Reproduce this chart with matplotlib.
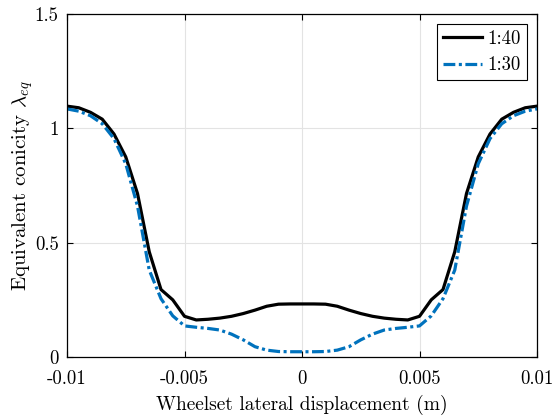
import numpy as np
import matplotlib
matplotlib.use('Agg')
import matplotlib.pyplot as plt

plt.rcParams['font.family'] = 'cmr10'
plt.rcParams['mathtext.fontset'] = 'cm'
plt.rcParams['axes.unicode_minus'] = False
plt.rcParams['axes.formatter.use_mathtext'] = True

# wheelset lateral displacement (m)
y_disp = np.arange(-20, 21) * 0.0005
# equivalent conicity, 1:40 rail inclination
lam_40 = [1.097, 1.09, 1.07, 1.04, 0.975, 0.875, 0.715, 0.46, 0.295, 0.25, 0.178,
          0.162, 0.165, 0.17, 0.178, 0.19, 0.205, 0.222, 0.231, 0.232, 0.232,
          0.232, 0.231, 0.222, 0.205, 0.19, 0.178, 0.17, 0.165, 0.162, 0.178,
          0.25, 0.295, 0.46, 0.715, 0.875, 0.975, 1.04, 1.07, 1.09, 1.097]
# equivalent conicity, 1:30 rail inclination
lam_30 = [1.085, 1.075, 1.055, 1.02, 0.955, 0.845, 0.66, 0.38, 0.255, 0.18, 0.136,
          0.13, 0.125, 0.118, 0.1, 0.075, 0.045, 0.03, 0.024, 0.023, 0.023,
          0.023, 0.024, 0.03, 0.045, 0.075, 0.1, 0.118, 0.125, 0.13, 0.136,
          0.18, 0.255, 0.38, 0.66, 0.845, 0.955, 1.02, 1.055, 1.075, 1.085]

xticks = [-0.01, -0.005, 0, 0.005, 0.01]
xlabels = ['-0.01', '-0.005', '0', '0.005', '0.01']
yticks = [0, 0.5, 1, 1.5]
ylabels = ['0', '0.5', '1', '1.5']

fig = plt.figure(figsize=(5.57, 4.18), dpi=100)
ax = fig.add_axes([67/557, 1-357/418, 470/557, 343/418])
ax.plot(y_disp, lam_40, '-', color='k', lw=2.3, label='1:40')
l30, = ax.plot(y_disp, lam_30, '-.', color='#0072BD', lw=2.3, label='1:30')
l30.set_dashes([3.7, 1.1, 0.95, 1.1])
ax.set_xlim(-0.01, 0.01)
ax.set_ylim(0, 1.5)
ax.set_xticks(xticks)
ax.set_xticklabels(xlabels)
ax.set_yticks(yticks)
ax.set_yticklabels(ylabels)
ax.grid(True, color='#e3e3e3', lw=0.8)
ax.set_axisbelow(True)
ax.tick_params(direction='in', top=True, right=True, labelsize=13.5, length=4, width=0.8)
ax.tick_params(axis='x', pad=9.5)
ax.tick_params(axis='y', pad=6)
for s in ax.spines.values():
    s.set_linewidth(0.9)
ax.set_xlabel('Wheelset lateral displacement (m)', fontsize=14, labelpad=5)
ax.set_ylabel(r'Equivalent conicity $\lambda_{eq}$', fontsize=15, labelpad=-0.5)
leg = ax.legend(loc='upper right', fontsize=13.5, fancybox=False, edgecolor='k',
                framealpha=1, handlelength=2.1, borderaxespad=0.55, handletextpad=0.3,
                labelspacing=0.45, borderpad=0.3)
leg.get_frame().set_linewidth(0.8)
plt.savefig('out.png', dpi=100)
